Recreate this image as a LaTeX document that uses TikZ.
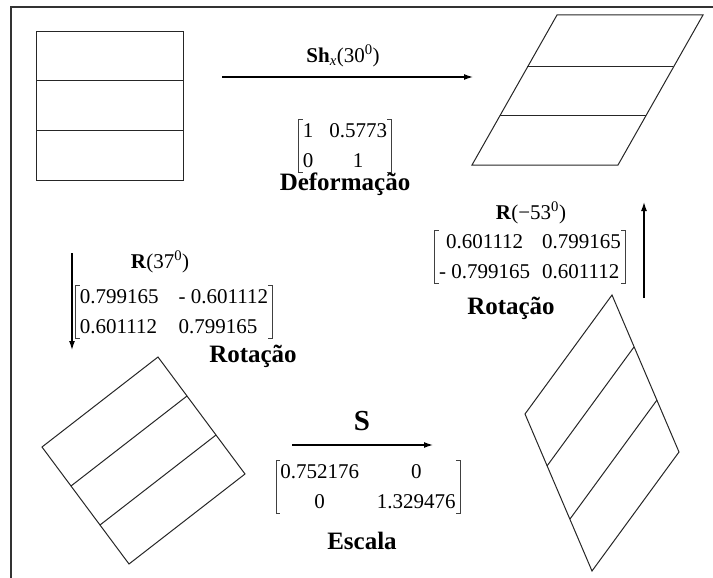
\documentclass[tikz,border=0pt]{standalone}
\usepackage{fontspec}
\setmainfont{Liberation Serif}
\usetikzlibrary{arrows.meta}

% colchetes de uma matriz em volta do no #1
\newcommand\colchetes[1]{%
  \draw[colchete] ([xshift=4pt]#1.north west) -- (#1.north west)
    -- (#1.south west) -- ([xshift=4pt]#1.south west);
  \draw[colchete] ([xshift=-4pt]#1.north east) -- (#1.north east)
    -- (#1.south east) -- ([xshift=-4pt]#1.south east);
}

\begin{document}
\begin{tikzpicture}[
    x=1pt, y=-1pt,
    contorno/.style={line width=1pt, black!85},
    colchete/.style={line width=0.9pt, black!75},
    seta/.style={line width=1.3pt, -{Latex[length=9pt,width=6pt]}},
    titulo/.style={font=\fontsize{25}{28}\selectfont\bfseries},
    operador/.style={font=\fontsize{21}{24}\selectfont},
    matriz/.style={font=\fontsize{21}{30}\selectfont, inner xsep=4pt, inner ysep=-4pt}
  ]
  \useasboundingbox (0,0) rectangle (713,578);
  % moldura
  \draw[line width=2pt, black!80] (713,7) -- (11,7) -- (11,578);

  % figura original
  \draw[contorno] (36,32) rectangle (183,180);
  \draw[contorno] (36,81) -- (183,81);
  \draw[contorno] (36,131) -- (183,131);

  % depois da deformacao
  \draw[contorno] (557,15) -- (703,15) -- (618,165) -- (472,165) -- cycle;
  \draw[contorno] (527,67) -- (673,67);
  \draw[contorno] (500,116) -- (646,116);

  % depois da rotacao de 37 graus
  \draw[contorno] (158,357) -- (245,474) -- (129,564) -- (42,447) -- cycle;
  \draw[contorno] (71,486) -- (187,396);
  \draw[contorno] (100,525) -- (216,435);

  % depois da escala
  \draw[contorno] (612,295) -- (679,452) -- (592,571) -- (525,414) -- cycle;
  \draw[contorno] (547,466) -- (634,347);
  \draw[contorno] (570,519) -- (657,400);

  % setas
  \coordinate (def1) at (222,77);  \coordinate (def2) at (473,77);
  \coordinate (rot1) at (72,253);  \coordinate (rot2) at (72,350);
  \coordinate (esc1) at (292,445); \coordinate (esc2) at (433,445);
  \coordinate (inv1) at (644,298); \coordinate (inv2) at (644,202);
  \draw[seta] (def1) -- (def2);
  \draw[seta] (rot1) -- (rot2);
  \draw[seta] (esc1) -- (esc2);
  \draw[seta] (inv1) -- (inv2);

  % deformacao
  \node[operador] (sh) at (343,56)
    {\textbf{Sh}\textsubscript{\textit{x}}(30\textsuperscript{0})};
  \node[matriz] (mdef) at (345,146)
    {\begin{tabular}{@{}l@{\hspace{16pt}}c@{}}1 & 0.5773\\ 0 & 1\end{tabular}};
  \colchetes{mdef}
  \node[titulo] (tdef) at (345,184) {Deformação};

  % rotacao
  \node[operador] (r37) at (160,262) {\textbf{R}(37\textsuperscript{0})};
  \node[matriz] (mrot) at (174,312)
    {\begin{tabular}{@{}l@{\hspace{20pt}}l@{}}0.799165 & - 0.601112\\ 0.601112 & 0.799165\end{tabular}};
  \colchetes{mrot}
  \node[titulo] (trot) at (253,356) {Rotação};

  % escala
  \node[font=\fontsize{29}{30}\selectfont\bfseries] (s) at (362,421) {S};
  \node[matriz] (mesc) at (368,487)
    {\begin{tabular}{@{}c@{\hspace{18pt}}c@{}}0.752176 & 0\\ 0 & 1.329476\end{tabular}};
  \colchetes{mesc}
  \node[titulo] (tesc) at (362,541) {Escala};

  % rotacao inversa
  \node[operador] (r53) at (531,213) {\textbf{R}(−53\textsuperscript{0})};
  \node[matriz] (minv) at (530,257)
    {\begin{tabular}{@{}c@{\hspace{12pt}}l@{}}0.601112 & 0.799165\\ - 0.799165 & 0.601112\end{tabular}};
  \colchetes{minv}
  \node[titulo] (tinv) at (511,308) {Rotação};
\end{tikzpicture}
\end{document}
